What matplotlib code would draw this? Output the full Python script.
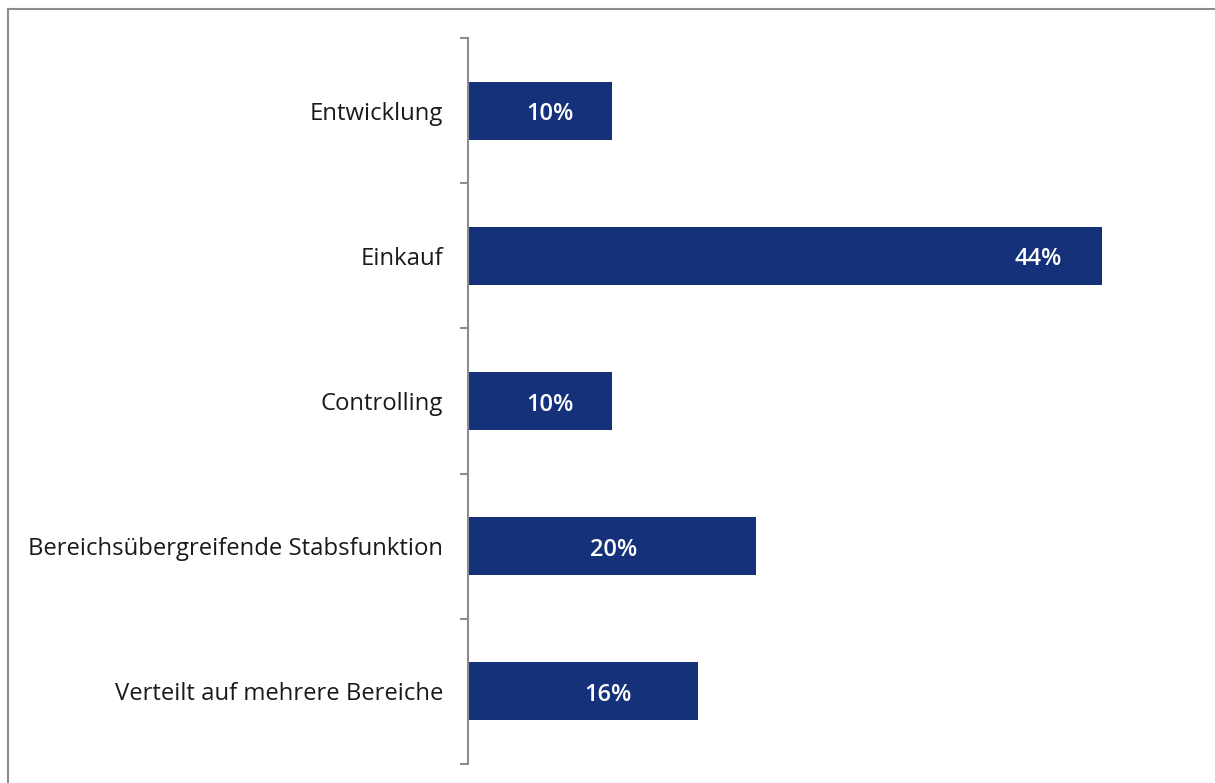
import matplotlib.pyplot as plt
from matplotlib.lines import Line2D

categories = [
    "Entwicklung",
    "Einkauf",
    "Controlling",
    "Bereichsübergreifende Stabsfunktion",
    "Verteilt auf mehrere Bereiche",
]
shares = [10, 44, 10, 20, 16]
value_labels = ["10%", "44%", "10%", "20%", "16%"]

BAR_COLOR = "#14317a"
GRID_GRAY = "#8c8c8c"


def main():
    plt.rcParams["font.family"] = ["Open Sans", "DejaVu Sans"]
    fig = plt.figure(figsize=(12.15, 7.83), dpi=100)
    ax = fig.add_axes([468 / 1215, 19 / 783, 720 / 1215, 726 / 783])

    y = list(range(len(categories)))
    ax.barh(y, shares, height=0.4, color=BAR_COLOR, zorder=2)

    # label offsets (in % units) relative to bar end
    offsets = [-4.3, -4.4, -4.3, -9.9, -6.3]
    for yi, val, lab, off in zip(y, shares, value_labels, offsets):
        ax.text(val + off, yi + 0.025, lab, ha="center", va="center",
                color="white", fontsize=17, fontweight="semibold")

    ax.set_xlim(0, 50)
    ax.set_ylim(len(categories) - 0.5, -0.5)

    ax.set_yticks(y)
    ax.set_yticklabels(categories, fontsize=17.2, color="#1a1a1a")
    ax.tick_params(axis="y", which="major", length=0, pad=18)
    ax.set_yticks([i - 0.5 for i in range(len(categories) + 1)], minor=True)
    ax.tick_params(axis="y", which="minor", length=6, width=1.5, color=GRID_GRAY)
    ax.set_xticks([])

    for side in ["top", "right", "bottom"]:
        ax.spines[side].set_visible(False)
    ax.spines["left"].set_color(GRID_GRAY)
    ax.spines["left"].set_linewidth(1.5)

    # outer frame along the top and left edges
    fig.add_artist(Line2D([8 / 1215, 1.0], [1 - 9 / 783, 1 - 9 / 783],
                          transform=fig.transFigure, color=GRID_GRAY, lw=1.5))
    fig.add_artist(Line2D([8 / 1215, 8 / 1215], [0, 1 - 9 / 783],
                          transform=fig.transFigure, color=GRID_GRAY, lw=1.5))

    fig.savefig("out.png", dpi=100)


if __name__ == "__main__":
    main()
